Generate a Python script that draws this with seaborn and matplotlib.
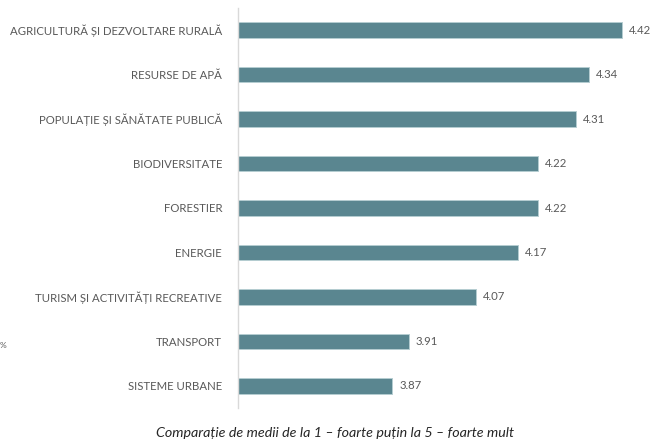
import pandas as pd
import numpy as np
import matplotlib
matplotlib.use('Agg')
import matplotlib.pyplot as plt
import seaborn as sns

# medii pe domenii (1 - foarte putin ... 5 - foarte mult)
domenii = ['AGRICULTURĂ ȘI DEZVOLTARE RURALĂ', 'RESURSE DE APĂ', 'POPULAȚIE ȘI SĂNĂTATE PUBLICĂ',
           'BIODIVERSITATE', 'FORESTIER', 'ENERGIE', 'TURISM ȘI ACTIVITĂȚI RECREATIVE',
           'TRANSPORT', 'SISTEME URBANE']
medii = [4.42, 4.34, 4.31, 4.22, 4.22, 4.17, 4.07, 3.91, 3.87]

df = pd.DataFrame({'domeniu': domenii, 'medie': medii})

sns.set_theme(style='white')
plt.rcParams['font.family'] = ['Lato', 'DejaVu Sans']

fig = plt.figure(figsize=(6.54, 4.41), dpi=100)
ax = fig.add_axes([237.5/654, 1 - 408/441, 406.5/654, 400/441])

sns.barplot(data=df, x='medie', y='domeniu', orient='h', color='#5A8690', saturation=1,
            width=0.35, edgecolor='#B5CDD1', linewidth=0.7, ax=ax)

ax.set_xlim(3.5, 3.5 + 406.5/418)
ax.set_ylim(8.5, -0.5)
ax.set_xlabel('')
ax.set_ylabel('')
ax.set_xticks([])
ax.tick_params(axis='y', length=0, pad=11, labelsize=8.2, labelcolor='#595959')

for s in ['top', 'right', 'bottom']:
    ax.spines[s].set_visible(False)
ax.spines['left'].set_color('#D9D9D9')
ax.spines['left'].set_linewidth(1)

for c in ax.containers:
    ax.bar_label(c, fmt='%.2f', padding=5, fontsize=8.2, color='#595959')

fig.text(0.0, 1 - 345/441, '%', fontsize=6, color='#595959', va='center')
fig.text(0.512, 1 - 433/441, 'Comparație de medii de la 1 – foarte puțin la 5 – foarte mult',
         ha='center', va='center', fontsize=10.3, style='italic', color='#262626')

fig.savefig('out.png', dpi=100)
